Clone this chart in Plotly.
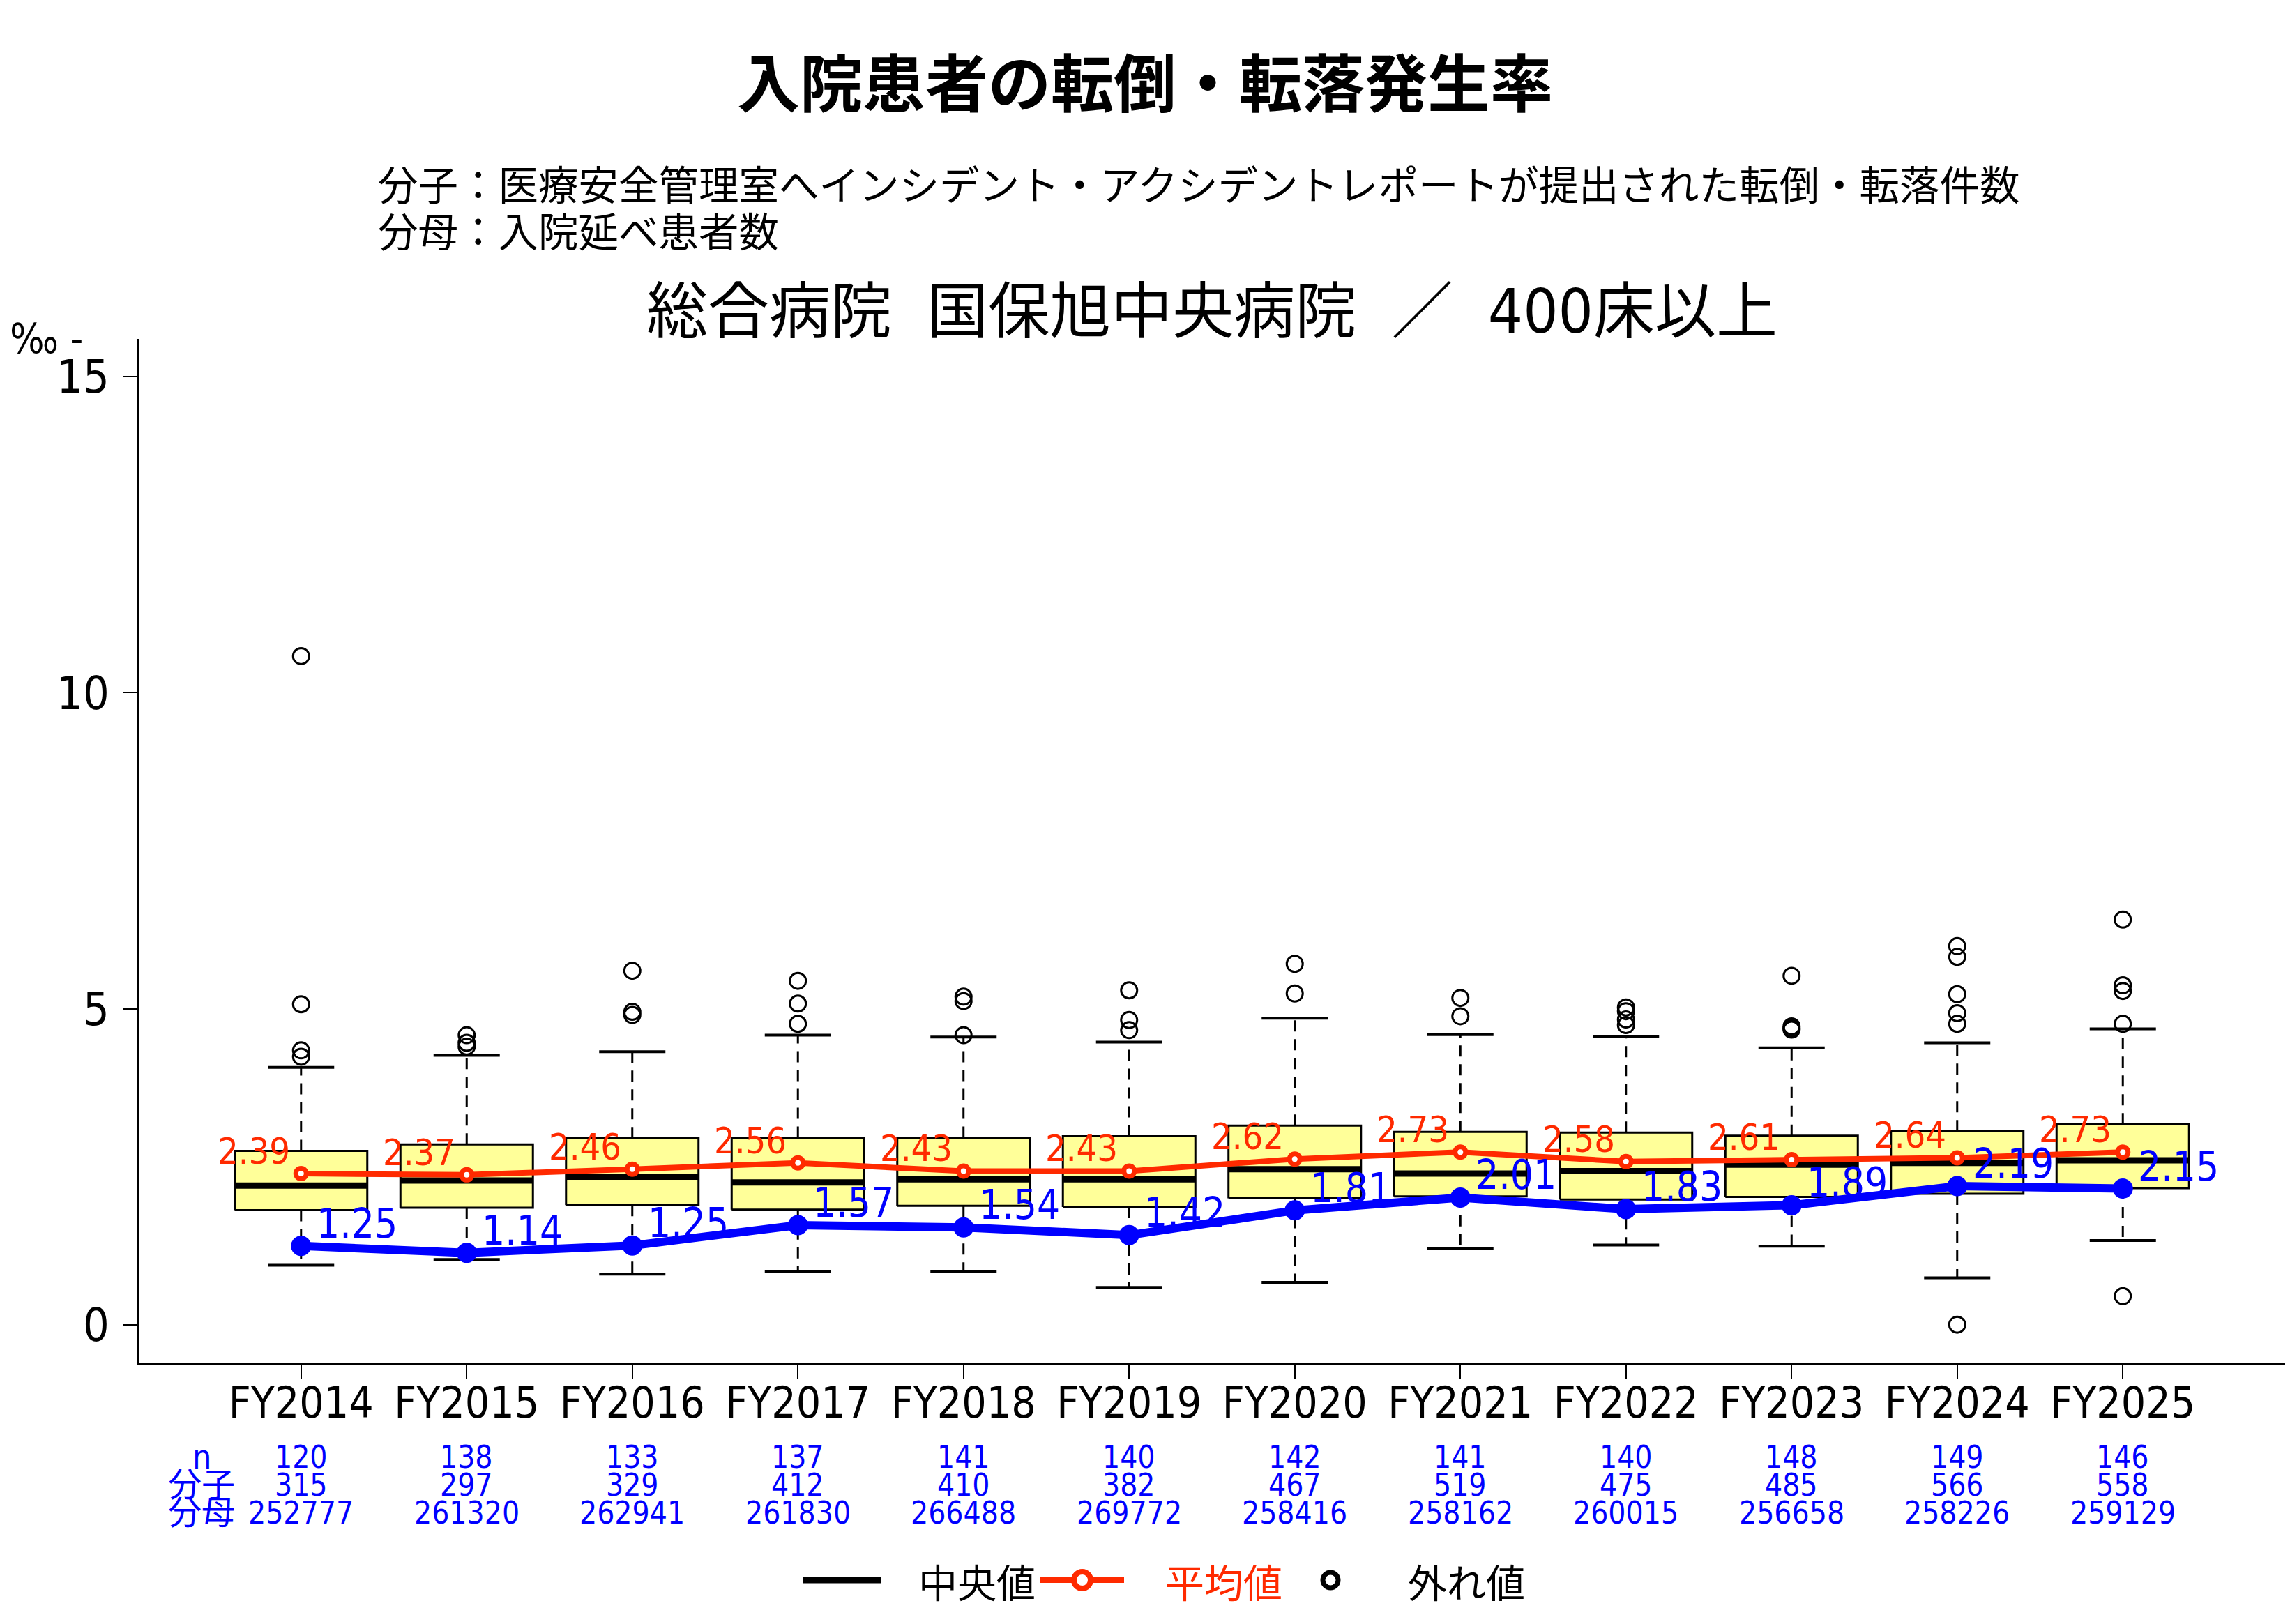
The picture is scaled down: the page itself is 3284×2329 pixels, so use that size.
import plotly.graph_objects as go

# ---- data ----
years = ["FY2014", "FY2015", "FY2016", "FY2017", "FY2018", "FY2019",
         "FY2020", "FY2021", "FY2022", "FY2023", "FY2024", "FY2025"]
n_hosp = [120, 138, 133, 137, 141, 140, 142, 141, 140, 148, 149, 146]
numer = [315, 297, 329, 412, 410, 382, 467, 519, 475, 485, 566, 558]
denom = [252777, 261320, 262941, 261830, 266488, 269772,
         258416, 258162, 260015, 256658, 258226, 259129]
mean_rate = [2.39, 2.37, 2.46, 2.56, 2.43, 2.43, 2.62, 2.73, 2.58, 2.61, 2.64, 2.73]

q1 = [1.81, 1.85, 1.89, 1.82, 1.88, 1.86, 2.00, 2.03, 1.98, 2.02, 2.07, 2.16]
med = [2.20, 2.28, 2.34, 2.25, 2.30, 2.30, 2.46, 2.39, 2.43, 2.53, 2.56, 2.60]
q3 = [2.75, 2.85, 2.95, 2.96, 2.96, 2.98, 3.15, 3.05, 3.04, 2.99, 3.06, 3.17]
wlo = [0.94, 1.03, 0.80, 0.84, 0.84, 0.59, 0.67, 1.21, 1.26, 1.24, 0.74, 1.33]
whi = [4.07, 4.26, 4.32, 4.58, 4.55, 4.47, 4.85, 4.59, 4.56, 4.38, 4.46, 4.68]
outliers = [
    [10.58, 5.07, 4.34, 4.24],
    [4.58, 4.46, 4.40],
    [5.60, 4.95, 4.90],
    [5.44, 5.08, 4.76],
    [5.19, 5.12, 4.58],
    [5.29, 4.82, 4.66],
    [5.71, 5.24],
    [5.17, 4.88],
    [5.02, 4.96, 4.83, 4.74],
    [5.52, 4.72, 4.69, 4.67],
    [5.99, 5.82, 5.23, 4.93, 4.76, 0.0],
    [6.41, 5.37, 5.28, 4.76, 0.45],
]

# 全体の発生率(‰) = 分子 / 分母 * 1000
rate = [a / b * 1000 for a, b in zip(numer, denom)]

NUM = "DejaVu Sans Condensed, Noto Sans, Noto Sans CJK JP, sans-serif"
JP = "Noto Sans CJK JP, sans-serif"
RED = "#ff2a00"
BLUE = "#0000ff"
YEL = "#ffff99"

# plot region in pixels (used for paper-coordinate conversion of decorations)
W, H = 3284, 2329
L, R, T, B = 199, 7, 486, 375
PW, PH = W - L - R, H - T - B


def px(xr):
    return (xr - L) / PW


def py(yr):
    return (H - B - yr) / PH


xs = list(range(len(years)))
BW = 0.4   # half box width
CW = 0.2   # half cap width

fig = go.Figure()

# whiskers (dashed)
wx, wy = [], []
for i in xs:
    wx += [i, i, None, i, i, None]
    wy += [q3[i], whi[i], None, q1[i], wlo[i], None]
fig.add_trace(go.Scatter(x=wx, y=wy, mode="lines",
                         line=dict(color="black", width=3, dash="16px,11px"),
                         hoverinfo="skip"))
# caps
cx, cy = [], []
for i in xs:
    cx += [i - CW, i + CW, None, i - CW, i + CW, None]
    cy += [whi[i], whi[i], None, wlo[i], wlo[i], None]
fig.add_trace(go.Scatter(x=cx, y=cy, mode="lines",
                         line=dict(color="black", width=4), hoverinfo="skip"))
# boxes
bx, by = [], []
for i in xs:
    bx += [i - BW, i + BW, i + BW, i - BW, i - BW, None]
    by += [q1[i], q1[i], q3[i], q3[i], q1[i], None]
fig.add_trace(go.Scatter(x=bx, y=by, mode="lines", fill="toself", fillcolor=YEL,
                         line=dict(color="black", width=3), hoverinfo="skip"))
# medians
mx, my = [], []
for i in xs:
    mx += [i - BW, i + BW, None]
    my += [med[i], med[i], None]
fig.add_trace(go.Scatter(x=mx, y=my, mode="lines",
                         line=dict(color="black", width=9), hoverinfo="skip"))
# outliers
ox, oy = [], []
for i in xs:
    for v in outliers[i]:
        ox.append(i)
        oy.append(v)
fig.add_trace(go.Scatter(x=ox, y=oy, mode="markers",
                         marker=dict(symbol="circle-open", size=23, color="black",
                                     line=dict(width=3, color="black"))))
# mean line
fig.add_trace(go.Scatter(x=xs, y=mean_rate, mode="lines+markers",
                         line=dict(color=RED, width=8),
                         marker=dict(size=15, color="white", line=dict(color=RED, width=7))))
# overall rate line
fig.add_trace(go.Scatter(x=xs, y=rate, mode="lines+markers",
                         line=dict(color=BLUE, width=12),
                         marker=dict(size=29, color=BLUE)))

ann = []
for i in xs:
    ann.append(dict(x=i, y=mean_rate[i], xref="x", yref="y", text=f"{mean_rate[i]:.2f}",
                    showarrow=False, xanchor="right", yanchor="bottom", xshift=-14,
                    font=dict(family=NUM, size=52, color=RED)))
    ann.append(dict(x=i, y=rate[i], xref="x", yref="y", text=f"{rate[i]:.2f}",
                    showarrow=False, xanchor="left", yanchor="bottom", xshift=20, yshift=-4,
                    font=dict(family=NUM, size=58, color=BLUE)))
    # table under the axis
    for val, yr in ((n_hosp[i], 2089), (numer[i], 2129), (denom[i], 2169)):
        ann.append(dict(x=i, y=py(yr), xref="x", yref="paper", text=str(val),
                        showarrow=False, xanchor="center", yanchor="middle",
                        font=dict(family=NUM, size=44, color=BLUE)))
for lab, yr in (("n", 2089), ("分子", 2129), ("分母", 2169)):
    ann.append(dict(x=-0.6, y=py(yr), xref="x", yref="paper", text=lab,
                    showarrow=False, xanchor="center", yanchor="middle",
                    font=dict(family=NUM, size=48, color=BLUE)))

# headings
ann.append(dict(x=px(540), y=py(262), xref="paper", yref="paper", showarrow=False,
                xanchor="left", yanchor="middle",
                text="分子：医療安全管理室へインシデント・アクシデントレポートが提出された転倒・転落件数",
                font=dict(family=JP, size=57.5, color="black")))
ann.append(dict(x=px(540), y=py(329), xref="paper", yref="paper", showarrow=False,
                xanchor="left", yanchor="middle", text="分母：入院延べ患者数",
                font=dict(family=JP, size=57.5, color="black")))
ann.append(dict(x=0.5, y=py(446), xref="paper", yref="paper", showarrow=False,
                xanchor="center", yanchor="middle",
                text="総合病院\u00a0\u00a0国保旭中央病院\u00a0\u00a0／\u00a0\u00a0400床以上",
                font=dict(family=NUM, size=88, color="black")))
ann.append(dict(x=px(12), y=py(486), xref="paper", yref="paper", showarrow=False,
                xanchor="left", yanchor="middle", text="‰ -",
                font=dict(family=NUM, size=58, color="black")))

# legend (drawn by hand to match the long line keys)
LY = py(2266)
shapes = [
    dict(type="line", xref="paper", yref="paper", x0=px(1152), x1=px(1263), y0=LY, y1=LY,
         line=dict(color="black", width=9)),
    dict(type="line", xref="paper", yref="paper", x0=px(1491), x1=px(1612), y0=LY, y1=LY,
         line=dict(color=RED, width=8)),
    dict(type="circle", xref="paper", yref="paper", xsizemode="pixel", ysizemode="pixel",
         xanchor=px(1552), yanchor=LY, x0=-12, x1=12, y0=-12, y1=12,
         fillcolor="white", line=dict(color=RED, width=8)),
    dict(type="circle", xref="paper", yref="paper", xsizemode="pixel", ysizemode="pixel",
         xanchor=px(1908), yanchor=LY, x0=-11, x1=11, y0=-11, y1=11,
         fillcolor="white", line=dict(color="black", width=7)),
]
for lab, xr, col in (("中央値", 1315, "black"), ("平均値", 1669, RED), ("外れ値", 2017, "black")):
    ann.append(dict(x=px(xr), y=LY, xref="paper", yref="paper", showarrow=False,
                    xanchor="left", yanchor="middle", text=lab,
                    font=dict(family=JP, size=56, color=col)))

fig.update_layout(
    width=W, height=H,
    margin=dict(l=L, r=R, t=T, b=B),
    paper_bgcolor="white", plot_bgcolor="white",
    showlegend=False,
    title=dict(text="<b>入院患者の転倒・転落発生率</b>", x=0.5, xref="container",
               y=1 - 121 / H, yref="container", xanchor="center", yanchor="middle",
               font=dict(family=JP, size=90, color="black")),
    xaxis=dict(range=[-0.98, 11.98], tickvals=xs, ticktext=years,
               showline=True, linecolor="black", linewidth=3, mirror=False,
               ticks="outside", ticklen=20, tickwidth=2, tickcolor="black",
               ticklabelstandoff=-18,
               showgrid=False, zeroline=False,
               tickfont=dict(family=NUM, size=62, color="black")),
    yaxis=dict(range=[-0.6, 15.6], tickvals=[0, 5, 10, 15],
               showline=True, linecolor="black", linewidth=3, mirror=False,
               ticks="outside", ticklen=20, tickwidth=2, tickcolor="black",
               ticklabelstandoff=6,
               showgrid=False, zeroline=False,
               tickfont=dict(family=NUM, size=66, color="black")),
    annotations=ann,
    shapes=shapes,
)

fig.write_html("out.html", config={"displayModeBar": False},
               post_script="document.body.style.margin='0';")
